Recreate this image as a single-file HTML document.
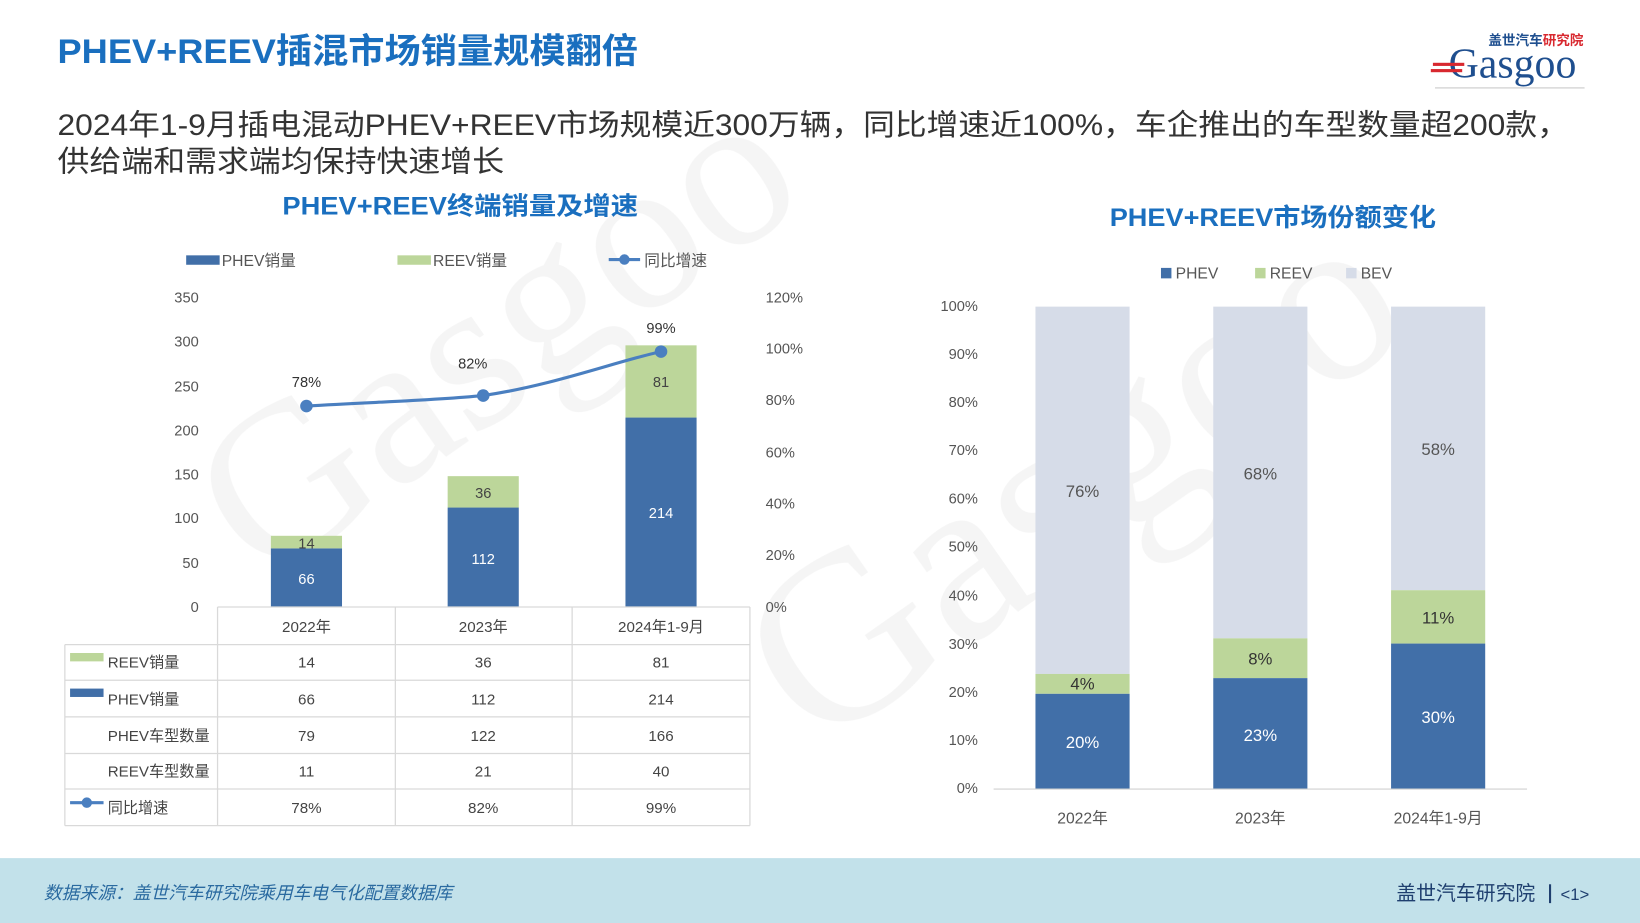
<!DOCTYPE html>
<html><head><meta charset="utf-8"><style>
html,body{margin:0;padding:0;background:#fff;}
svg{display:block;font-family:"Liberation Sans","Noto Sans CJK SC",sans-serif;}
</style></head><body>
<svg width="1640" height="923" viewBox="0 0 1568 882" preserveAspectRatio="none" xmlns="http://www.w3.org/2000/svg">
<rect width="1568" height="882" fill="#fff"/>
<!-- watermark -->
<g opacity="0.06" fill="#555" font-family="Liberation Serif, serif">
<text x="250" y="560" font-size="210" transform="rotate(-35 250 560)">Gasgoo</text>
<text x="780" y="720" font-size="230" transform="rotate(-35 780 720)">Gasgoo</text>
</g>
<!-- title -->
<text x="55" y="60" font-size="33" font-weight="bold" fill="#1a6fbf" textLength="555" lengthAdjust="spacingAndGlyphs">PHEV+REEV插混市场销量规模翻倍</text>
<!-- logo -->
<text x="1423" y="43" font-size="13" font-weight="bold" fill="#1f4f8f">盖世汽车<tspan fill="#d8282f">研究院</tspan></text>
<text x="1385" y="74" font-size="40" fill="#1f4f8f" font-family="Liberation Serif, serif">Gasgoo</text>
<rect x="1370" y="60" width="30" height="3" fill="#d8282f"/><rect x="1368" y="66" width="30" height="3" fill="#d8282f"/>
<line x1="1372" y1="84" x2="1515" y2="84" stroke="#bbb" stroke-width="0.8"/>
<!-- subtitle -->
<text x="55" y="129" font-size="28" fill="#333" textLength="1445" lengthAdjust="spacingAndGlyphs">2024年1-9月插电混动PHEV+REEV市场规模近300万辆，同比增速近100%，车企推出的车型数量超200款，</text>
<text x="55" y="164" font-size="28" fill="#333" textLength="427" lengthAdjust="spacingAndGlyphs">供给端和需求端均保持快速增长</text>
<!-- left chart title -->
<text x="440" y="205" font-size="24" font-weight="bold" fill="#1a6fbf" text-anchor="middle" textLength="340" lengthAdjust="spacingAndGlyphs">PHEV+REEV终端销量及增速</text>
<!-- legend -->
<g font-size="15" fill="#555">
<rect x="178" y="244" width="32" height="9" fill="#416fa8"/><text x="212" y="254">PHEV销量</text>
<rect x="380" y="244" width="32" height="9" fill="#bcd69a"/><text x="414" y="254">REEV销量</text>
<line x1="582" y1="248" x2="612" y2="248" stroke="#4a7fc0" stroke-width="3"/><circle cx="597" cy="248" r="5" fill="#4a7fc0"/><text x="616" y="254">同比增速</text>
</g>
<!-- axes labels -->
<g font-size="14" fill="#555" text-anchor="end">
<text x="190" y="289">350</text><text x="190" y="331">300</text><text x="190" y="374">250</text><text x="190" y="416">200</text><text x="190" y="458">150</text><text x="190" y="500">100</text><text x="190" y="543">50</text><text x="190" y="585">0</text>
</g>
<g font-size="14" fill="#555">
<text x="732" y="289">120%</text><text x="732" y="338">100%</text><text x="732" y="387">80%</text><text x="732" y="437">60%</text><text x="732" y="486">40%</text><text x="732" y="535">20%</text><text x="732" y="585">0%</text>
</g>
<!-- bars -->
<rect x="259" y="524" width="68" height="56" fill="#416fa8"/><rect x="259" y="512" width="68" height="12" fill="#bcd69a"/>
<rect x="428" y="485" width="68" height="95" fill="#416fa8"/><rect x="428" y="455" width="68" height="30" fill="#bcd69a"/>
<rect x="598" y="399" width="68" height="181" fill="#416fa8"/><rect x="598" y="330" width="68" height="69" fill="#bcd69a"/>
<g font-size="14" text-anchor="middle">
<text x="293" y="558" fill="#fff">66</text><text x="293" y="524" fill="#444">14</text>
<text x="462" y="539" fill="#fff">112</text><text x="462" y="476" fill="#444">36</text>
<text x="632" y="495" fill="#fff">214</text><text x="632" y="370" fill="#444">81</text>
<text x="293" y="370" fill="#333">78%</text><text x="452" y="352" fill="#333">82%</text><text x="632" y="318" fill="#333">99%</text>
</g>
<path d="M293 388 C360 384,410 383,462 378 C530 368,590 345,632 336" fill="none" stroke="#4a7fc0" stroke-width="3"/>
<circle cx="293" cy="388" r="6" fill="#4a7fc0"/><circle cx="462" cy="378" r="6" fill="#4a7fc0"/><circle cx="632" cy="336" r="6" fill="#4a7fc0"/>
<!-- table -->
<g stroke="#d9d9d9" stroke-width="1.2" fill="none">
<line x1="208" y1="580" x2="717" y2="580"/>
<line x1="62" y1="616" x2="717" y2="616"/><line x1="62" y1="650" x2="717" y2="650"/><line x1="62" y1="685" x2="717" y2="685"/><line x1="62" y1="720" x2="717" y2="720"/><line x1="62" y1="754" x2="717" y2="754"/><line x1="62" y1="789" x2="717" y2="789"/>
<line x1="62" y1="616" x2="62" y2="789"/><line x1="208" y1="580" x2="208" y2="789"/><line x1="378" y1="580" x2="378" y2="789"/><line x1="547" y1="580" x2="547" y2="789"/><line x1="717" y1="580" x2="717" y2="789"/>
</g>
<g font-size="14.5" fill="#444" text-anchor="middle">
<text x="293" y="604">2022年</text><text x="462" y="604">2023年</text><text x="632" y="604">2024年1-9月</text>
<text x="293" y="638">14</text><text x="462" y="638">36</text><text x="632" y="638">81</text>
<text x="293" y="673">66</text><text x="462" y="673">112</text><text x="632" y="673">214</text>
<text x="293" y="708">79</text><text x="462" y="708">122</text><text x="632" y="708">166</text>
<text x="293" y="742">11</text><text x="462" y="742">21</text><text x="632" y="742">40</text>
<text x="293" y="777">78%</text><text x="462" y="777">82%</text><text x="632" y="777">99%</text>
</g>
<g font-size="14.5" fill="#444">
<rect x="67" y="624" width="32" height="8" fill="#bcd69a"/><text x="103" y="638">REEV销量</text>
<rect x="67" y="658" width="32" height="8" fill="#416fa8"/><text x="103" y="673">PHEV销量</text>
<text x="103" y="708">PHEV车型数量</text>
<text x="103" y="742">REEV车型数量</text>
<line x1="67" y1="767" x2="99" y2="767" stroke="#4a7fc0" stroke-width="3"/><circle cx="83" cy="767" r="5" fill="#4a7fc0"/><text x="103" y="777">同比增速</text>
</g>
<!-- right chart -->
<text x="1217" y="216" font-size="24" font-weight="bold" fill="#1a6fbf" text-anchor="middle" textLength="312" lengthAdjust="spacingAndGlyphs">PHEV+REEV市场份额变化</text>
<g font-size="15" fill="#555">
<rect x="1110" y="256" width="10" height="10" fill="#416fa8"/><text x="1124" y="266">PHEV</text>
<rect x="1200" y="256" width="10" height="10" fill="#bcd69a"/><text x="1214" y="266">REEV</text>
<rect x="1287" y="256" width="10" height="10" fill="#d6dce8"/><text x="1301" y="266">BEV</text>
</g>
<g font-size="14" fill="#555" text-anchor="end">
<text x="935" y="297">100%</text><text x="935" y="343">90%</text><text x="935" y="389">80%</text><text x="935" y="435">70%</text><text x="935" y="481">60%</text><text x="935" y="527">50%</text><text x="935" y="574">40%</text><text x="935" y="620">30%</text><text x="935" y="666">20%</text><text x="935" y="712">10%</text><text x="935" y="758">0%</text>
</g>
<rect x="990" y="293" width="90" height="351" fill="#d6dce8"/><rect x="990" y="644" width="90" height="19" fill="#bcd69a"/><rect x="990" y="663" width="90" height="91" fill="#416fa8"/>
<rect x="1160" y="293" width="90" height="317" fill="#d6dce8"/><rect x="1160" y="610" width="90" height="38" fill="#bcd69a"/><rect x="1160" y="648" width="90" height="106" fill="#416fa8"/>
<rect x="1330" y="293" width="90" height="271" fill="#d6dce8"/><rect x="1330" y="564" width="90" height="51" fill="#bcd69a"/><rect x="1330" y="615" width="90" height="139" fill="#416fa8"/>
<line x1="950" y1="754" x2="1460" y2="754" stroke="#d0d0d0" stroke-width="1"/>
<g font-size="16" text-anchor="middle">
<text x="1035" y="475" fill="#555">76%</text><text x="1035" y="659" fill="#333">4%</text><text x="1035" y="715" fill="#fff">20%</text>
<text x="1205" y="458" fill="#555">68%</text><text x="1205" y="635" fill="#333">8%</text><text x="1205" y="708" fill="#fff">23%</text>
<text x="1375" y="435" fill="#555">58%</text><text x="1375" y="596" fill="#333">11%</text><text x="1375" y="691" fill="#fff">30%</text>
</g>
<g font-size="15" fill="#555" text-anchor="middle">
<text x="1035" y="787">2022年</text><text x="1205" y="787">2023年</text><text x="1375" y="787">2024年1-9月</text>
</g>
<!-- footer -->
<rect x="0" y="820" width="1568" height="62" fill="#c2e1ea"/>
<text x="42" y="859" font-size="17" font-style="italic" fill="#2a6aa0">数据来源：盖世汽车研究院乘用车电气化配置数据库</text>
<text x="1335" y="860" font-size="19" fill="#1f3f6f">盖世汽车研究院</text>
<rect x="1481" y="845" width="2" height="18" fill="#1f3f6f"/>
<text x="1492" y="860" font-size="16" fill="#1f3f6f">&lt;1&gt;</text>
</svg>
</body></html>
